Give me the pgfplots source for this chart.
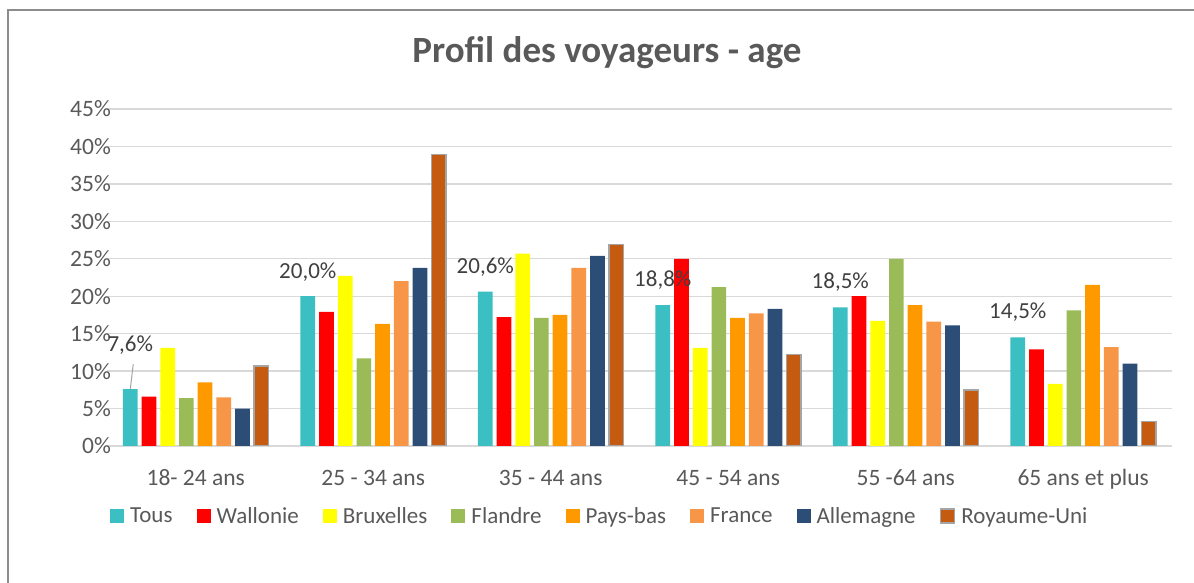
\documentclass[border=0pt]{standalone}
\usepackage{fontspec}
\setmainfont{Carlito}
\usepackage{pgfplots}
\usepackage{pgfplotstable}
\pgfplotsset{compat=1.18}
\definecolor{txt}{HTML}{595959}
\definecolor{lbl}{HTML}{404040}
\definecolor{gridc}{HTML}{D9D9D9}
\definecolor{framec}{HTML}{8C8C8C}
\definecolor{ctous}{HTML}{3BBFC3}
\definecolor{cwal}{HTML}{FF0000}
\definecolor{cbru}{HTML}{FFFF00}
\definecolor{cfla}{HTML}{9BBB59}
\definecolor{cpb}{HTML}{FF9900}
\definecolor{cfr}{HTML}{F79646}
\definecolor{call}{HTML}{2C4D75}
\definecolor{cru}{HTML}{C55A11}
\definecolor{cruedge}{HTML}{A5A5A5}

\pgfplotstableread{
x tous wal bru fla pb fr all ru sh
0 7.6 6.6 13.1 6.4 8.5 6.5 5.0 10.7 34.5
1 20.0 17.9 22.7 11.7 16.3 22.0 23.8 38.9 14.5
2 20.6 17.2 25.7 17.1 17.5 23.8 25.4 26.9 15.5
3 18.8 25.0 13.1 21.2 17.1 17.7 18.3 12.2 15.5
4 18.5 20.0 16.7 25.0 18.8 16.6 16.1 7.5 15.5
5 14.5 12.9 8.3 18.1 21.5 13.2 11.0 3.3 15.5
}\data

\begin{document}
\begin{tikzpicture}
\useasboundingbox (0pt,0pt) rectangle (1194pt,583pt);
\draw[color=framec, line width=1.2pt] (8pt,-20pt) -- (8pt,573pt) -- (1220pt,573pt);
\node[anchor=base, font=\fontsize{37}{44}\selectfont\bfseries, text=txt, inner sep=0pt] at (607pt,520pt) {Profil des voyageurs - age};
\begin{axis}[
  at={(107pt,137pt)}, anchor=south west,
  scale only axis, width=1065pt, height=337pt,
  xmin=-0.5, xmax=5.5, ymin=0, ymax=45,
  ybar=4pt, bar width=14.7pt,
  axis line style={draw=none},
  major tick length=0pt,
  tick style={draw=none},
  ymajorgrids, grid style={color=gridc, line width=1.3pt},
  xtick={0,1,2,3,4,5},
  xticklabels={18- 24 ans, 25 - 34 ans, 35 - 44 ans, 45 - 54 ans, 55 -64 ans, 65 ans et plus},
  ytick={0,5,...,45},
  yticklabel={\pgfmathprintnumber{\tick}\%},
  /pgf/number format/assume math mode=true,
  tick label style={font=\fontsize{23.5}{27}\selectfont, text=txt},
  yticklabel style={anchor=east, inner sep=0pt, xshift=4pt},
  xticklabel style={anchor=base, inner sep=0pt, yshift=-40pt},
  legend columns=8,
  legend style={draw=none, fill=none, at={(0,-0.2077)}, anchor=west,
    font=\fontsize{23}{27}\selectfont, text=txt,
    nodes={inner xsep=0pt},
    /tikz/every odd column/.append style={column sep=6pt},
    /tikz/every even column/.append style={column sep=24.1pt}},
  legend image code/.code={\fill[#1] (0pt,-7pt) rectangle (14pt,7pt);},
]
\addplot[fill=ctous, draw=none,
  nodes near coords={\pgfmathprintnumber[fixed,fixed zerofill,precision=1,use comma]{\pgfplotspointmeta}\%},
  visualization depends on={\thisrow{sh} \as \lsh},
  every node near coord/.append style={font=\fontsize{23}{27}\selectfont, text=lbl, inner sep=0pt, anchor=south, yshift=\lsh*1pt}
  ] table[x=x,y=tous]{\data};
\addlegendentry{Tous}
\addplot[fill=cwal, draw=none] table[x=x,y=wal]{\data};
\addlegendentry{Wallonie}
\addplot[fill=cbru, draw=none] table[x=x,y=bru]{\data};
\addlegendentry{Bruxelles}
\addplot[fill=cfla, draw=none] table[x=x,y=fla]{\data};
\addlegendentry{Flandre}
\addplot[fill=cpb, draw=none] table[x=x,y=pb]{\data};
\addlegendentry{Pays-bas}
\addplot[fill=cfr, draw=none] table[x=x,y=fr]{\data};
\addlegendentry{France}
\addplot[fill=call, draw=none] table[x=x,y=all]{\data};
\addlegendentry{Allemagne}
\addplot[fill=cru, draw=cruedge, line width=1.5pt] table[x=x,y=ru]{\data};
\addlegendentry{Royaume-Uni}
\draw[color=cruedge, line width=1pt] ([xshift=-65.45pt]axis cs:0,7.6) -- ([xshift=-62.5pt,yshift=25pt]axis cs:0,7.6);
\end{axis}
\end{tikzpicture}
\end{document}
